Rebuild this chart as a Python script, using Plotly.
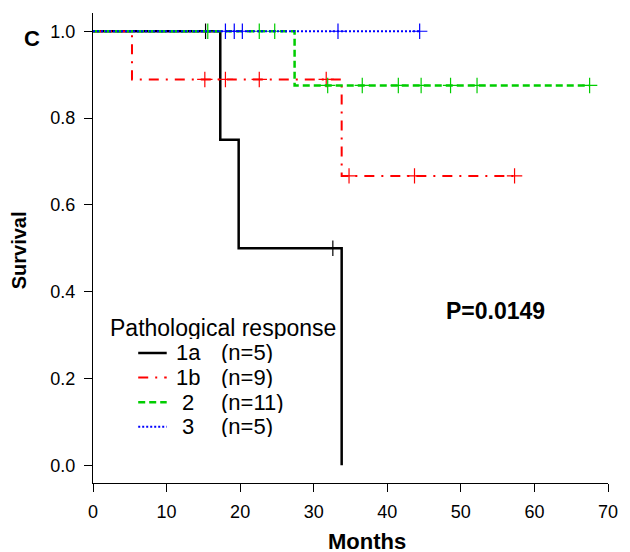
import plotly.graph_objects as go

# ---- data (months, status: 1 = event, 0 = censored) ----
groups = ["1a", "1b", "2", "3"]
counts = ["(n=5)", "(n=9)", "(n=11)", "(n=5)"]

times_1a = [15.3, 17.3, 19.8, 32.6, 33.8]
status_1a = [0, 1, 1, 0, 1]

times_1b = [5.3, 15.2, 18.0, 22.6, 31.7, 33.8, 34.8, 43.7, 57.3]
status_1b = [1, 0, 0, 0, 0, 1, 0, 0, 0]

times_2 = [15.6, 22.6, 24.7, 27.4, 31.9, 36.6, 41.5, 44.6, 48.6, 52.2, 67.5]
status_2 = [0, 0, 0, 1, 0, 0, 0, 0, 0, 0, 0]

times_3 = [18.0, 19.2, 20.3, 33.3, 44.4]
status_3 = [0, 0, 0, 0, 0]

x_ticks = [0, 10, 20, 30, 40, 50, 60, 70]
y_ticks = [0.0, 0.2, 0.4, 0.6, 0.8, 1.0]

# ---- styles ----
colors = ["#000000", "#FF0000", "#00CD00", "#0000FF"]
dashes = ["solid", "10px,7px,2px,7px", "7px,4px", "2px,2px"]
widths = [2.5, 2.0, 2.5, 2.0]
FONT = "Liberation Sans, Arial, sans-serif"


def km(times, status):
    order = sorted(range(len(times)), key=lambda i: times[i])
    t_sorted = [times[i] for i in order]
    s_sorted = [status[i] for i in order]
    n = len(t_sorted)
    s = 1.0
    xs, ys = [0.0], [1.0]
    cx, cy = [], []
    for i, (t, d) in enumerate(zip(t_sorted, s_sorted)):
        at_risk = n - i
        if d == 1:
            s = s * (at_risk - 1) / at_risk
            xs.append(t)
            ys.append(s)
        else:
            cx.append(t)
            cy.append(s)
    if xs[-1] != t_sorted[-1]:
        xs.append(t_sorted[-1])
        ys.append(s)
    return xs, ys, cx, cy


data_sets = [(times_1a, status_1a), (times_1b, status_1b),
             (times_2, status_2), (times_3, status_3)]

fig = go.Figure()
for (t, st), col, dash, w, g in zip(data_sets, colors, dashes, widths, groups):
    xs, ys, cx, cy = km(t, st)
    fig.add_trace(go.Scatter(x=xs, y=ys, mode="lines", line_shape="hv",
                             line=dict(color=col, width=w, dash=dash),
                             name=g, showlegend=False, hoverinfo="skip"))
    fig.add_trace(go.Scatter(x=cx, y=cy, mode="markers",
                             marker=dict(symbol="cross-thin", size=11,
                                         line=dict(color=col, width=1.2)),
                             showlegend=False, hoverinfo="skip"))

W, H = 630, 552
L, R, T, B = 93, 13, 13, 69
pw, ph = W - L - R, H - T - B


def px(x):
    return (x - L) / pw


def py(y):
    return (H - B - y) / ph


annotations = []
shapes = []

# legend (drawn manually, R style)
annotations.append(dict(x=px(108), y=py(328), xref="paper", yref="paper",
                        text="Pathological response", showarrow=False,
                        xanchor="left", yanchor="middle", height=22,
                        font=dict(family=FONT, size=23, color="black")))
row_y = [353, 377.6, 402.2, 426.8]
label_x = [175, 175, 182, 182]
for g, c, col, dash, w, ry, lx in zip(groups, counts, colors, dashes, widths, row_y, label_x):
    shapes.append(dict(type="line", xref="paper", yref="paper",
                       x0=px(139), x1=px(168), y0=py(ry), y1=py(ry),
                       line=dict(color=col, width=w, dash=dash)))
    annotations.append(dict(x=px(lx), y=py(ry), xref="paper", yref="paper",
                            text=g, showarrow=False, xanchor="left", yanchor="middle",
                            height=21,
                            font=dict(family=FONT, size=22, color="black")))
    annotations.append(dict(x=px(221), y=py(ry), xref="paper", yref="paper",
                            text=c, showarrow=False, xanchor="left", yanchor="middle",
                            height=21,
                            font=dict(family=FONT, size=22, color="black")))

annotations.append(dict(x=px(450), y=py(311), xref="paper", yref="paper",
                        text="<b>P=0.0149</b>", showarrow=False,
                        xanchor="left", yanchor="middle",
                        font=dict(family=FONT, size=23, color="black")))
annotations.append(dict(x=px(372), y=py(541), xref="paper", yref="paper",
                        text="<b>Months</b>", showarrow=False,
                        xanchor="center", yanchor="middle", height=20,
                        font=dict(family=FONT, size=22, color="black")))
annotations.append(dict(x=px(18), y=py(250), xref="paper", yref="paper",
                        text="<b>Survival</b>", showarrow=False, textangle=-90,
                        xanchor="center", yanchor="middle",
                        font=dict(family=FONT, size=20, color="black")))
annotations.append(dict(x=px(31), y=py(38), xref="paper", yref="paper",
                        text="<b>C</b>", showarrow=False,
                        xanchor="center", yanchor="middle",
                        font=dict(family=FONT, size=22, color="black")))

fig.update_layout(
    width=W, height=H,
    margin=dict(l=L, r=R, t=T, b=B, pad=0),
    paper_bgcolor="white", plot_bgcolor="white",
    font=dict(family=FONT, size=18, color="black"),
    showlegend=False,
    annotations=annotations,
    shapes=shapes,
    xaxis=dict(range=[0, 70], tickvals=x_ticks, ticktext=[str(v) for v in x_ticks],
               showgrid=False, zeroline=False, showline=True, linecolor="black",
               linewidth=1, ticks="outside", ticklen=8, tickcolor="black",
               ticklabelstandoff=4,
               tickfont=dict(family=FONT, size=18, color="black")),
    yaxis=dict(range=[-0.041, 1.042], tickvals=y_ticks,
               ticktext=["%.1f" % v for v in y_ticks],
               showgrid=False, zeroline=False, showline=True, linecolor="black",
               linewidth=1, ticks="outside", ticklen=8, tickcolor="black",
               ticklabelstandoff=5,
               tickfont=dict(family=FONT, size=18, color="black")),
)

fig.write_html("out.html", config={"displayModeBar": False},
               post_script="document.body.style.margin='0';document.body.style.padding='0';")
